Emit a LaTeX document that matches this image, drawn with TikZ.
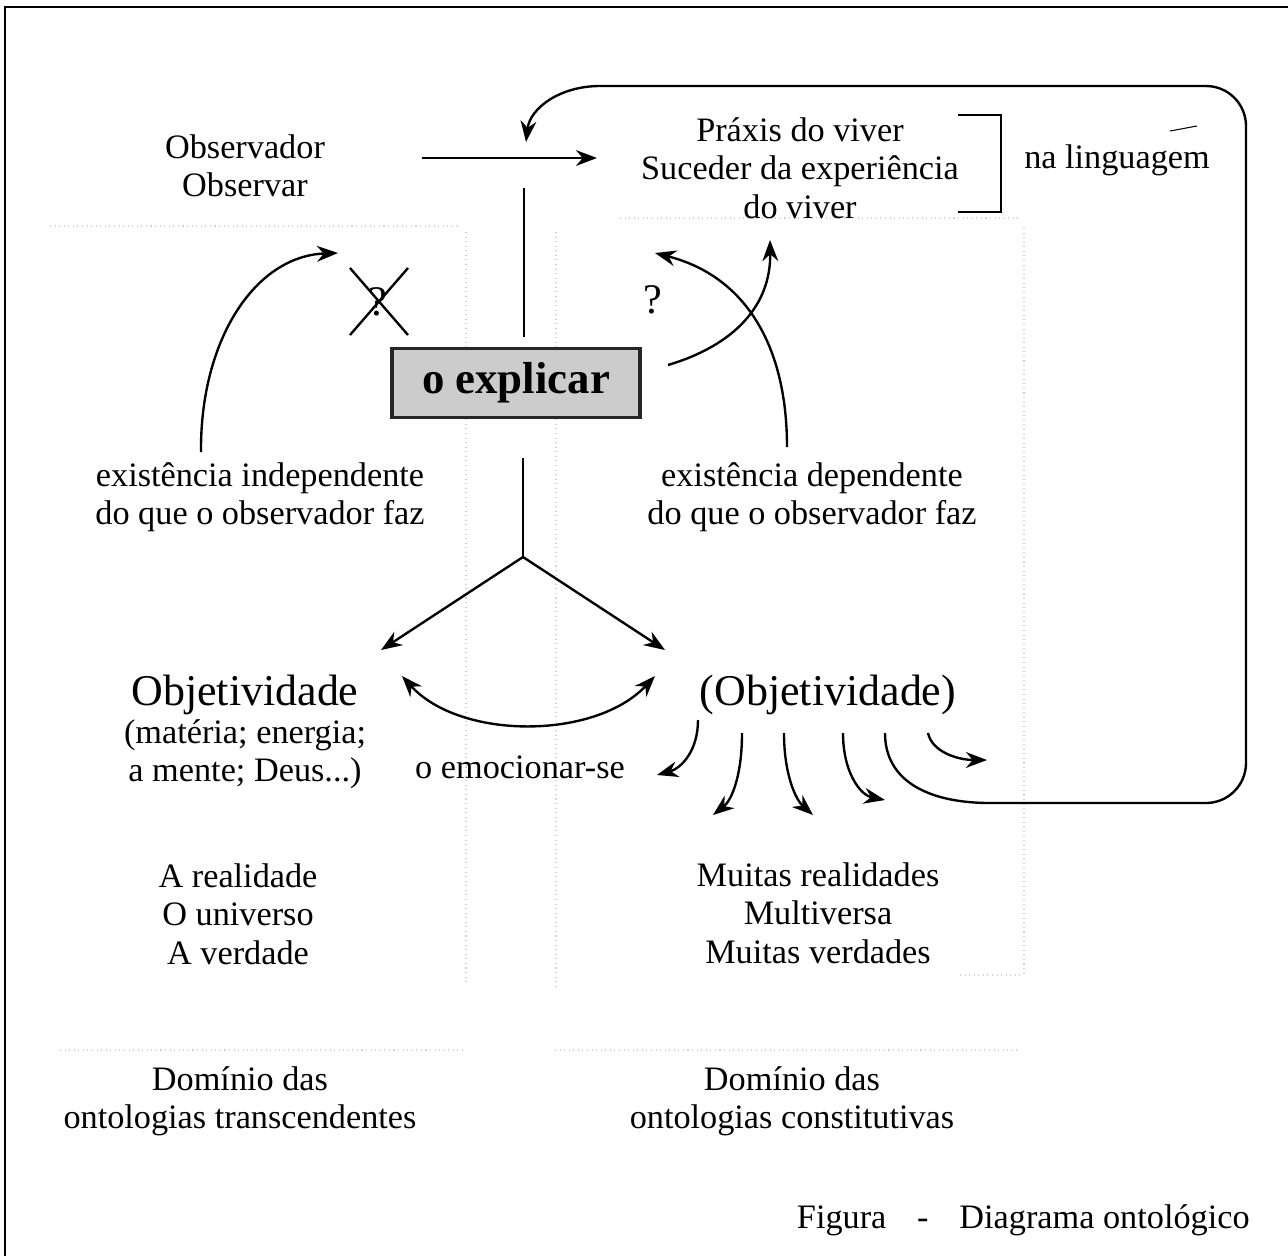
\documentclass[tikz,border=0pt]{standalone}
\usepackage{fontspec}
\setmainfont{Liberation Serif}
\usetikzlibrary{arrows.meta}
\begin{document}
\begin{tikzpicture}[x=0.02cm,y=-0.02cm,
  txt/.style={align=center, font=\fontsize{19.5}{21.8}\selectfont, inner sep=0pt},
  big/.style={align=center, font=\fontsize{25}{28}\selectfont, inner sep=0pt},
  qm/.style={inner sep=0pt, font=\fontsize{24}{28}\selectfont},
  boxstyle/.style={draw=black!85, line width=1.8pt, fill=black!20, minimum width=4.96cm, minimum height=1.38cm, inner sep=0pt, font=\bfseries\fontsize{25.5}{28}\selectfont},
  arr/.style={line width=1.35pt, -{Stealth[length=12pt,width=9pt]}},
  ln/.style={line width=1.35pt},
  faint/.style={black!18, dotted, line width=0.6pt}]
\useasboundingbox (0,0) rectangle (1288,1255);
% faint background grid remnants
\draw[faint] (50,226) -- (458,226);
\draw[faint] (620,218) -- (1020,218);
\draw[faint] (466,232) -- (466,985);
\draw[faint] (556,232) -- (556,990);
\draw[faint] (1024,228) -- (1024,975);
\draw[faint] (60,1050) -- (465,1050);
\draw[faint] (555,1050) -- (1020,1050);
\draw[faint] (960,975) -- (1020,975);
% frame
\draw[line width=1.2pt] (5,1262) -- (5,7) -- (1292,7);
% nodes
\node[txt] (obs) at (245,166) {Observador\\Observar};
\node[txt] (praxis) at (800,168) {Práxis do viver\\Suceder da experiência\\do viver};
\node[txt] (ling) at (1117,160) {na linguagem};
\node[boxstyle] (expl) at (516,383) {o explicar};
\node[txt] (indep) at (260,497) {existência independente\\do que o observador faz};
\node[txt] (dep) at (812,497) {existência dependente\\do que o observador faz};
\node[big] (objL) at (245,695) {Objetividade};
\node[txt] (mat) at (245,754) {(matéria; energia;\\a mente; Deus...)};
\node[txt] (emo) at (520,767) {o emocionar-se};
\node[big] (objR) at (828,695) {(Objetividade)};
\node[txt] (realL) at (238,914) {A realidade\\O universo\\A verdade};
\node[txt] (realR) at (818,913) {Muitas realidades\\Multiversa\\Muitas verdades};
\node[txt] (domL) at (240,1101) {Domínio das\\ontologias transcendentes};
\node[txt] (domR) at (792,1101) {Domínio das\\ontologias constitutivas};
\node[txt, anchor=east] (fig) at (1250,1220) {Figura\hspace{0.9em}-\hspace{0.9em}Diagrama ontológico};
\node[qm] (q1) at (378,302) {?};
\node[qm] (q2) at (653,300) {?};
% coordinates
\coordinate (ha) at (422,158);
\coordinate (hb) at (597,158);
\coordinate (vt) at (524,188);
\coordinate (vb) at (524,337);
\coordinate (lt) at (523,458);
\coordinate (fork) at (523,557);
\coordinate (fl) at (381,650);
\coordinate (fr) at (665,650);
\coordinate (dl) at (402,676);
\coordinate (dr) at (655,676);
% connectors
\draw[arr] (ha) -- (hb);
\draw[ln] (vt) -- (vb);
\draw[ln] (lt) -- (fork);
\draw[arr] (fork) -- (fl);
\draw[arr] (fork) -- (fr);
\draw[arr, {Stealth[length=12pt,width=9pt]}-{Stealth[length=12pt,width=9pt]}] (dl) .. controls (460,740) and (595,740) .. (dr);
% left curved arrow and X
\coordinate (la) at (201,452);
\coordinate (lb) at (338,253);
\draw[arr] (la) .. controls (200,340) and (255,256) .. (lb);
\draw[ln] (350,268) -- (408,335);
\draw[ln] (408,268) -- (350,335);
% right crossing arrows
\coordinate (ra) at (668,365);
\coordinate (rb) at (770,240);
\draw[arr] (ra) .. controls (735,345) and (771,305) .. (rb);
\coordinate (rc) at (787,447);
\coordinate (rd) at (655,253);
\draw[arr] (rc) .. controls (787,345) and (745,276) .. (rd);
% bracket
\draw[ln] (958,115) -- (1001,115) -- (1001,212) -- (958,212);
\draw[line width=0.6pt] (1170,131) -- (1197,126);
% small arrows from (Objetividade)
\draw[arr] (698,720) .. controls (698,750) and (682,768) .. (657,775);
\draw[arr] (742,733) .. controls (742,775) and (732,800) .. (713,815);
\draw[arr] (784,733) .. controls (784,775) and (796,800) .. (813,815);
\draw[arr] (843,733) .. controls (843,772) and (860,795) .. (885,800);
\draw[arr] (928,733) .. controls (932,752) and (958,760) .. (987,760);
% big loop
\draw[arr] (885,733) .. controls (885,782) and (930,803) .. (990,803)
  [rounded corners=0.8cm] -- (1246,803) -- (1246,86) -- (640,86) [sharp corners]
  -- (600,86) .. controls (560,86) and (530,108) .. (526,142);
\end{tikzpicture}
\end{document}
